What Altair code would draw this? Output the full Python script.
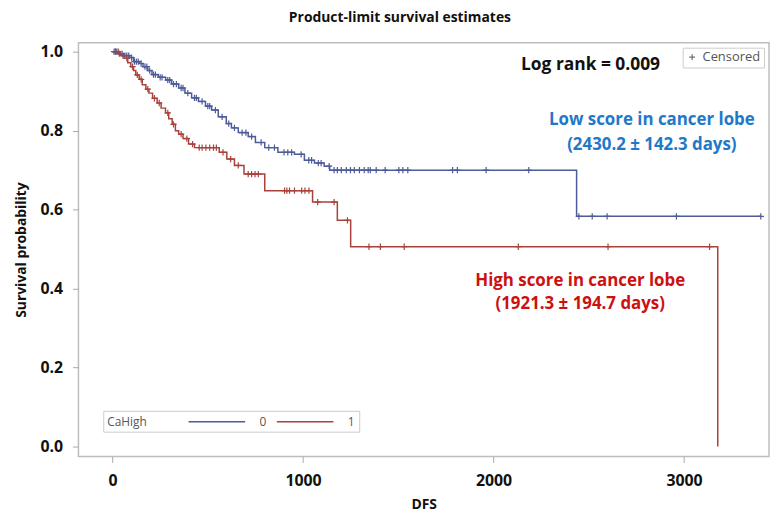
import altair as alt
import pandas as pd

# ---- data ----
groups = ["0", "1"]

# CaHigh = 0 (low score): event times (days) and survival after each step
low_t = [30, 60, 90, 110, 140, 160, 185, 207, 240, 279, 310, 347, 380, 415, 451,
         488, 520, 555, 597, 624, 660, 712, 750, 799, 868, 955, 1007, 1060, 1111,
         1140, 2436]
low_s = [0.995, 0.99, 0.985, 0.975, 0.97, 0.962, 0.952, 0.942, 0.935, 0.928, 0.918,
         0.908, 0.895, 0.883, 0.874, 0.862, 0.852, 0.835, 0.818, 0.807, 0.795, 0.785,
         0.77, 0.757, 0.745, 0.74, 0.725, 0.718, 0.71, 0.70, 0.583]
low_end = 3403
low_cens = [8, 15, 22, 35, 50, 65, 75, 85, 100, 115, 125, 135, 150, 170, 180, 195,
            215, 225, 250, 260, 290, 300, 320, 335, 360, 370, 395, 430, 440, 470,
            500, 510, 540, 575, 610, 640, 680, 700, 730, 780, 820, 850, 900, 920,
            940, 990, 1030, 1045, 1080, 1095, 1137, 1163, 1180, 1201, 1227, 1249,
            1269, 1296, 1321, 1342, 1353, 1384, 1431, 1503, 1524, 1550, 1785, 1810,
            1961, 2185, 2448, 2518, 2596, 2960, 3403]

# CaHigh = 1 (high score)
high_t = [40, 61, 80, 96, 110, 122, 140, 156, 175, 191, 210, 234, 255, 278, 295,
          313, 330, 347, 370, 399, 430, 560, 600, 640, 690, 799, 1050, 1180, 1250,
          3177]
high_s = [0.99, 0.983, 0.972, 0.962, 0.952, 0.941, 0.93, 0.916, 0.905, 0.895, 0.882,
          0.87, 0.857, 0.845, 0.83, 0.816, 0.80, 0.791, 0.78, 0.766, 0.757, 0.745,
          0.728, 0.712, 0.69, 0.648, 0.619, 0.573, 0.506, 0.0]
high_end = 3177
high_cens = [15, 30, 55, 75, 105, 130, 150, 185, 220, 245, 290, 320, 360, 390, 420,
             455, 470, 490, 510, 530, 545, 580, 620, 660, 712, 730, 748, 765, 903,
             915, 929, 955, 993, 1010, 1031, 1077, 1163, 1233, 1346, 1406, 1531,
             2130, 2601, 3134]

x_ticks = [0, 1000, 2000, 3000]
y_ticks = [0.0, 0.2, 0.4, 0.6, 0.8, 1.0]

colors = ["#4D5B98", "#A8423A"]

notes = ["Log rank = 0.009", "Low score in cancer lobe", "(2430.2 \u00b1 142.3 days)",
         "High score in cancer lobe", "(1921.3 \u00b1 194.7 days)"]
note_x = [2509, 2831, 2831, 2455, 2455]
note_y = [0.967, 0.826, 0.764, 0.420, 0.361]
note_c = ["#111111", "#1F78C8", "#1F78C8", "#CC1111", "#CC1111"]
note_size = [17.5, 17, 17, 17, 17]

# ---- build tables ----
def step_rows(g, ts, ss, end):
    rows = [{"g": g, "t": 0, "s": 1.0}]
    for t, s in zip(ts, ss):
        rows.append({"g": g, "t": t, "s": s})
    if end > ts[-1]:
        rows.append({"g": g, "t": end, "s": ss[-1]})
    return rows

def surv_at(t, ts, ss):
    v = 1.0
    for tt, s in zip(ts, ss):
        if tt <= t:
            v = s
    return v

line_df = pd.DataFrame(step_rows("0", low_t, low_s, low_end) +
                       step_rows("1", high_t, high_s, high_end))
cens_rows = [{"g": "0", "t": t, "s": surv_at(t, low_t, low_s), "c": "Censored"} for t in low_cens]
cens_rows += [{"g": "1", "t": t, "s": surv_at(t, high_t, high_s), "c": "Censored"} for t in high_cens]
cens_df = pd.DataFrame(cens_rows)
note_df = pd.DataFrame({"x": note_x, "y": note_y, "text": notes, "c": note_c, "fs": note_size})

FONT = "Open Sans"
xscale = alt.Scale(domain=[-179, 3446], nice=False, zero=False)
yscale = alt.Scale(domain=[-0.0251, 1.0226], nice=False, zero=False)

color_legend = alt.Legend(
    orient="bottom-left", direction="horizontal", title="CaHigh", titleOrient="left",
    symbolType="M-4.75,0H4.75", symbolSize=144, symbolOffset=22.5, symbolStrokeWidth=1.5,
    symbolFillColor="transparent",
    labelOffset=36, columnPadding=7, titlePadding=41,
    labelFont=FONT, labelFontSize=12, labelColor="#555555", labelFontWeight="normal",
    titleFont=FONT, titleFontSize=12, titleColor="#555555", titleFontWeight="normal",
    strokeColor="#cccccc", padding=4, offset=25,
)
color_enc = alt.Color("g:N", scale=alt.Scale(domain=groups, range=colors), legend=color_legend)

x_axis = alt.Axis(values=x_ticks, title="DFS", format="d", labelPadding=10, titlePadding=9)
y_axis = alt.Axis(values=y_ticks, title="Survival probability", format=".1f",
                  labelPadding=10, titlePadding=11)

lines = alt.Chart(line_df).mark_line(interpolate="step-after", strokeWidth=1.5).encode(
    x=alt.X("t:Q", scale=xscale, axis=x_axis),
    y=alt.Y("s:Q", scale=yscale, axis=y_axis),
    color=color_enc,
    detail="g:N",
)

points = alt.Chart(cens_df).mark_point(filled=False, strokeWidth=1.2, size=40, opacity=1).encode(
    x=alt.X("t:Q", scale=xscale),
    y=alt.Y("s:Q", scale=yscale),
    color=color_enc,
    shape=alt.Shape("c:N", scale=alt.Scale(domain=["Censored"], range=["M-1,0H1M0,-1V1"]),
                    legend=alt.Legend(orient="top-right", title=None, offset=5, padding=3,
                                      strokeColor="#cccccc", symbolStrokeColor="#555555",
                                      symbolFillColor="transparent", symbolSize=36,
                                      symbolStrokeWidth=1, labelFont=FONT, labelFontSize=13,
                                      labelColor="#555555", labelOffset=4)),
)

texts = alt.Chart(note_df).mark_text(font=FONT, fontWeight="bold", align="center",
                                     baseline="middle").encode(
    x=alt.X("x:Q", scale=xscale),
    y=alt.Y("y:Q", scale=yscale),
    text="text:N",
    fill=alt.Fill("c:N", scale=None),
    size=alt.Size("fs:Q", scale=None),
)

chart = alt.layer(lines, points, texts).properties(
    width=696, height=417,
    title=alt.TitleParams("Product-limit survival estimates", font=FONT, fontSize=14,
                          fontWeight="bold", color="#111111", anchor="middle", dx=-24,
                          offset=18),
    autosize=alt.AutoSizeParams(type="none"),
    padding={"left": 71, "top": 33, "right": 1, "bottom": 60},
).configure_view(
    stroke="#bdbdbd", strokeWidth=1.5
).configure_axis(
    domain=False, grid=False, tickColor="#aaaaaa", tickSize=6,
    labelFont=FONT, labelFontSize=16, labelFontWeight="bold", labelColor="#111111",
    titleFont=FONT, titleFontSize=14, titleFontWeight="bold", titleColor="#111111",
)

chart.save("out.html", embed_options={"renderer": "svg", "actions": False})
